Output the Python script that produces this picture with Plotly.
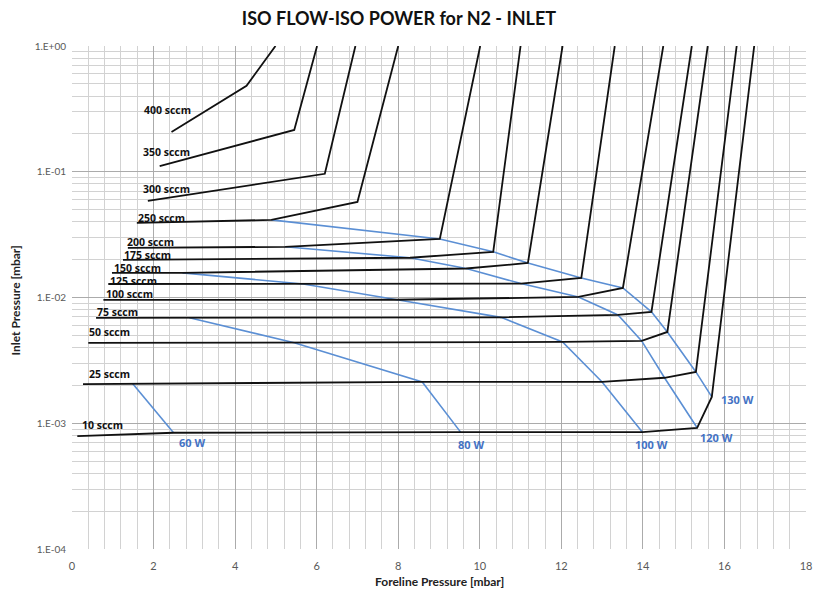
import plotly.graph_objects as go

# Iso-flow curves: foreline pressure [mbar] vs inlet pressure [mbar]
flows = [10, 25, 50, 75, 100, 125, 150, 175, 200, 250, 300, 350, 400]

flow_x = {
    10:  [0.13, 2.49, 9.53, 13.99, 15.33, 15.69, 16.73],
    25:  [0.27, 1.49, 8.59, 13.00, 14.53, 15.30, 16.30],
    50:  [0.40, 5.45, 12.03, 13.97, 14.60, 15.59],
    75:  [0.59, 2.88, 10.52, 13.39, 14.21, 15.20],
    100: [0.77, 7.97, 12.42, 13.51, 14.50],
    125: [0.89, 5.67, 11.01, 12.49, 13.31],
    150: [0.98, 2.71, 9.67, 11.18, 12.03],
    175: [1.25, 8.29, 10.33, 11.00],
    200: [1.37, 5.23, 9.02, 10.01],
    250: [1.59, 4.89, 7.00, 8.00],
    300: [1.86, 6.20, 6.95],
    350: [2.15, 5.45, 6.01],
    400: [2.44, 4.28, 4.99],
}
flow_y = {
    10:  [7.9e-4, 8.4e-4, 8.5e-4, 8.5e-4, 9.2e-4, 1.62e-3, 1.0],
    25:  [2.05e-3, 2.06e-3, 2.13e-3, 2.13e-3, 2.30e-3, 2.56e-3, 1.0],
    50:  [4.35e-3, 4.37e-3, 4.43e-3, 4.52e-3, 5.32e-3, 1.0],
    75:  [6.88e-3, 6.90e-3, 6.95e-3, 7.27e-3, 7.69e-3, 1.0],
    100: [9.57e-3, 9.60e-3, 1.01e-2, 1.19e-2, 1.0],
    125: [1.28e-2, 1.28e-2, 1.29e-2, 1.43e-2, 1.0],
    150: [1.57e-2, 1.57e-2, 1.70e-2, 1.88e-2, 1.0],
    175: [1.99e-2, 2.07e-2, 2.31e-2, 1.0],
    200: [2.48e-2, 2.53e-2, 2.92e-2, 1.0],
    250: [3.92e-2, 4.14e-2, 5.76e-2, 1.0],
    300: [5.87e-2, 9.63e-2, 1.0],
    350: [0.111, 0.215, 1.0],
    400: [0.207, 0.482, 1.0],
}

# Iso-power curves join points on the iso-flow curves: (flow, point index)
powers = [60, 80, 100, 120, 130]
power_nodes = {
    60:  [(25, 1), (10, 1)],
    80:  [(75, 1), (50, 1), (25, 2), (10, 2)],
    100: [(150, 1), (125, 1), (100, 1), (75, 2), (50, 2), (25, 3), (10, 3)],
    120: [(200, 1), (175, 1), (150, 2), (125, 2), (100, 2), (75, 3), (50, 3), (25, 4), (10, 4)],
    130: [(250, 1), (200, 2), (175, 2), (150, 3), (125, 3), (100, 3), (75, 4), (50, 4), (25, 5), (10, 5)],
}

# Label anchors (left edge x, log10 of inlet pressure)
flow_label_pos = {
    400: (1.74, -0.508), 350: (1.71, -0.842), 300: (1.71, -1.136),
    250: (1.59, -1.367), 200: (1.32, -1.558), 175: (1.25, -1.661),
    150: (1.01, -1.765), 125: (0.91, -1.868), 100: (0.81, -1.971),
    75: (0.59, -2.115), 50: (0.38, -2.274), 25: (0.40, -2.608),
    10: (0.21, -3.014),
}
power_label_pos = {
    60: (2.61, -3.157), 80: (9.45, -3.172), 100: (13.77, -3.172),
    120: (15.38, -3.117), 130: (15.89, -2.815),
}

y_tickvals = [1e-4, 1e-3, 1e-2, 1e-1, 1.0]
y_ticktext = ["1.E-04", "1.E-03", "1.E-02", "1.E-01", "1.E+00"]

BLUE_LINE = "#5B8FD4"
BLUE_TEXT = "#4472C4"
FONT = "Open Sans"
TITLE_FONT = "Lato"

fig = go.Figure()

for p in powers:
    xs = [flow_x[f][i] for f, i in power_nodes[p]]
    ys = [flow_y[f][i] for f, i in power_nodes[p]]
    fig.add_trace(go.Scatter(x=xs, y=ys, mode="lines", name=f"{p} W",
                             line=dict(color=BLUE_LINE, width=1.6)))

for f in flows:
    fig.add_trace(go.Scatter(x=flow_x[f], y=flow_y[f], mode="lines", name=f"{f} sccm",
                             line=dict(color="#111111", width=1.8)))

annotations = []
for f in flows:
    lx, ly = flow_label_pos[f]
    annotations.append(dict(x=lx, y=ly, xref="x", yref="y", text=f"<b>{f} sccm</b>",
                            showarrow=False, xanchor="left", yanchor="middle", borderpad=0,
                            font=dict(family=FONT, size=10.5, color="#111111")))
for p in powers:
    lx, ly = power_label_pos[p]
    annotations.append(dict(x=lx, y=ly, xref="x", yref="y", text=f"<b>{p} W</b>",
                            showarrow=False, xanchor="left", yanchor="middle", borderpad=0,
                            font=dict(family=FONT, size=11, color=BLUE_TEXT)))

W, H = 821, 591
ml, mr, mt, mb = 72, 9, 46, 42
pw, ph = W - ml - mr, H - mt - mb

annotations.append(dict(x=(442 - ml) / pw, y=-(581 - (H - mb)) / ph, xref="paper", yref="paper",
                        text="<b>Foreline Pressure [mbar]</b>", showarrow=False,
                        xanchor="center", yanchor="middle",
                        font=dict(family=TITLE_FONT, size=12, color="#222222")))
annotations.append(dict(x=-(ml - 15) / pw, y=1 - (300 - mt) / ph, xref="paper", yref="paper",
                        text="<b>Inlet Pressure [mbar]</b>", showarrow=False, textangle=-90,
                        xanchor="center", yanchor="middle",
                        font=dict(family=TITLE_FONT, size=12, color="#222222")))

fig.update_layout(
    width=W, height=H,
    margin=dict(l=ml, r=mr, t=mt, b=mb),
    paper_bgcolor="white", plot_bgcolor="white",
    showlegend=False,
    title=dict(text="<b>ISO FLOW-ISO POWER for N2 - INLET</b>",
               x=399 / W, xanchor="center", y=1 - 19 / H, yanchor="middle",
               xref="container", yref="container",
               font=dict(family=TITLE_FONT, size=18, color="#111111")),
    annotations=annotations,
)

fig.update_xaxes(
    range=[0, 18], dtick=2, tick0=0,
    showgrid=True, gridcolor="#ababab", gridwidth=1,
    minor=dict(dtick=0.4, showgrid=True, gridcolor="#d2d2d2", gridwidth=1),
    zeroline=False, showline=False, ticks="", ticklabelstandoff=9,
    tickfont=dict(family=TITLE_FONT, size=11, color="#595959"),
)
fig.update_yaxes(
    type="log", range=[-4, 0],
    tickvals=y_tickvals, ticktext=y_ticktext,
    showgrid=True, gridcolor="#ababab", gridwidth=1,
    minor=dict(dtick="D1", showgrid=True, gridcolor="#d2d2d2", gridwidth=1),
    zeroline=False, showline=False, ticks="", ticklabelstandoff=5,
    tickfont=dict(family=TITLE_FONT, size=10, color="#595959"),
)

fig.write_html("out.html")
